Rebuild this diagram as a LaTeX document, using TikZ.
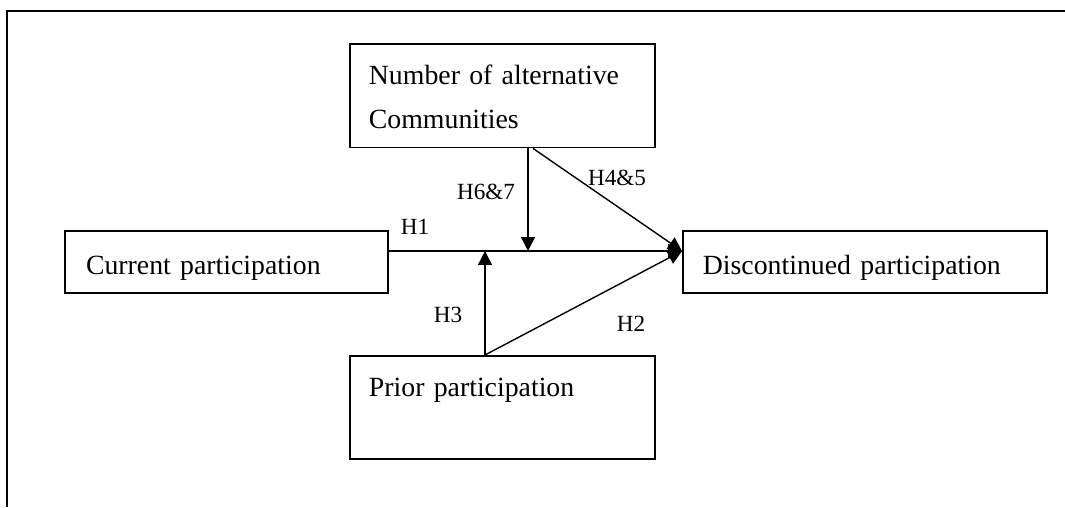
\documentclass[tikz,border=0pt]{standalone}
\usepackage{fontspec}
\setmainfont{Liberation Serif}
\usetikzlibrary{arrows.meta}
\tikzset{
  tbox/.style={draw,line width=0.8pt,anchor=north west,align=left,inner ysep=0pt,
    font=\fontsize{12}{19}\selectfont},
  hlabel/.style={font=\fontsize{10}{12}\selectfont,inner sep=0pt},
  arr/.style={line width=0.6pt,-{Triangle[length=6pt,width=6pt]}},
}
\begin{document}
\begin{tikzpicture}[x=0.4317pt,y=-0.4317pt]
   \useasboundingbox (0,0) rectangle (1065,507);
   \draw [line width=0.9pt] (1065,11) -- (7,11) -- (7,507);
   \node [tbox,inner xsep=9.1pt,text width=121.3pt,text height=18.6pt,text depth=8.2pt] (cur) at (64,230) {Current participation};
   \node [tbox,inner xsep=8.6pt,text width=139.9pt,text height=18.6pt,text depth=8.2pt] (dis) at (682,230) {Discontinued participation};
   \node [tbox,inner xsep=8.2pt,text width=115.3pt,text height=17.3pt,text depth=27.4pt] (num) at (349,43) {Number of alternative\\Communities};
   \node [tbox,inner xsep=8.2pt,text width=115.3pt,text height=17.3pt,text depth=27.2pt] (pri) at (349,355) {Prior participation};
   \coordinate (m1) at (528,251);
   \coordinate (m2) at (485,251);
   \coordinate (s45) at (533,0);
   \coordinate (conv) at (dis.west |- m1);
   \draw [arr] (cur.east |- m1) -- (conv);
   \draw [arr] (num.south -| m1) -- (m1);
   \draw [arr] (pri.north -| m2) -- (m2);
   \draw [arr] (num.south -| s45) -- (conv);
   \draw [arr] (pri.north -| m2) -- (conv);
   \node [hlabel] (l1) at (415,227) {H1};
   \node [hlabel] (l67) at (486,192) {H6\&7};
   \node [hlabel] (l45) at (617,178) {H4\&5};
   \node [hlabel] (l3) at (448,315) {H3};
   \node [hlabel] (l2) at (631,324) {H2};
\end{tikzpicture}
\end{document}
